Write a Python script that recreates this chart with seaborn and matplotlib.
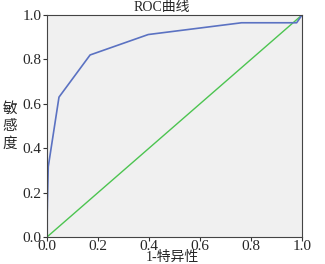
import numpy as np
import pandas as pd
import matplotlib
matplotlib.use("Agg")
import matplotlib.pyplot as plt
import seaborn as sns

# ROC curve values
fpr = [0.0, 0.0, 0.005, 0.047, 0.169, 0.397, 0.763, 0.979, 1.0]
tpr = [0.0, 0.15, 0.317, 0.63, 0.82, 0.912, 0.965, 0.965, 1.0]
ref_x = [0.0, 1.0]
ref_y = [0.0, 1.0]
ticks = [0.0, 0.2, 0.4, 0.6, 0.8, 1.0]
ylabel_chars = ["敏", "感", "度"]

sns.set_style("ticks")
plt.rcParams['font.family'] = ['Liberation Serif', 'Noto Sans CJK SC']

W, H = 325, 264
fig = plt.figure(figsize=(W / 100, H / 100), dpi=100)
ax = fig.add_axes([47 / W, 1 - 237 / H, 255 / W, 222 / H])
ax.set_facecolor("#f0f0f0")

roc = pd.DataFrame({"fpr": fpr, "tpr": tpr})
ref = pd.DataFrame({"x": ref_x, "y": ref_y})
sns.lineplot(data=ref, x="x", y="y", ax=ax, color="#4cc450", lw=1.0, sort=False)
sns.lineplot(data=roc, x="fpr", y="tpr", ax=ax, color="#5b72c2", lw=1.2, sort=False)

ax.set_xlim(0, 1)
ax.set_ylim(0, 1)
ax.set_xticks(ticks)
ax.set_yticks(ticks)
ax.set_xticklabels([f"{t:.1f}" for t in ticks])
ax.set_yticklabels([f"{t:.1f}" for t in ticks])
ax.tick_params(labelsize=11, length=3, width=0.8, color="#333333")
ax.tick_params(axis="x", pad=-1)
ax.tick_params(axis="y", pad=1)
for s in ax.spines.values():
    s.set_visible(True)
    s.set_color("#444444")
    s.set_linewidth(0.8)
ax.set_xlabel("")
ax.set_ylabel("")

fig.text(162 / W, 1 - 8 / H, "ROC曲线", fontsize=10, ha="center", va="center")
fig.text(172 / W, 1 - 257.5 / H, "1-特异性", fontsize=10, ha="center", va="center")
for i, ch in enumerate(ylabel_chars):
    fig.text(10 / W, 1 - (109 + i * 17.5) / H, ch, fontsize=10.5,
             ha="center", va="center", rotation=0)

fig.savefig("out.png", dpi=100)
